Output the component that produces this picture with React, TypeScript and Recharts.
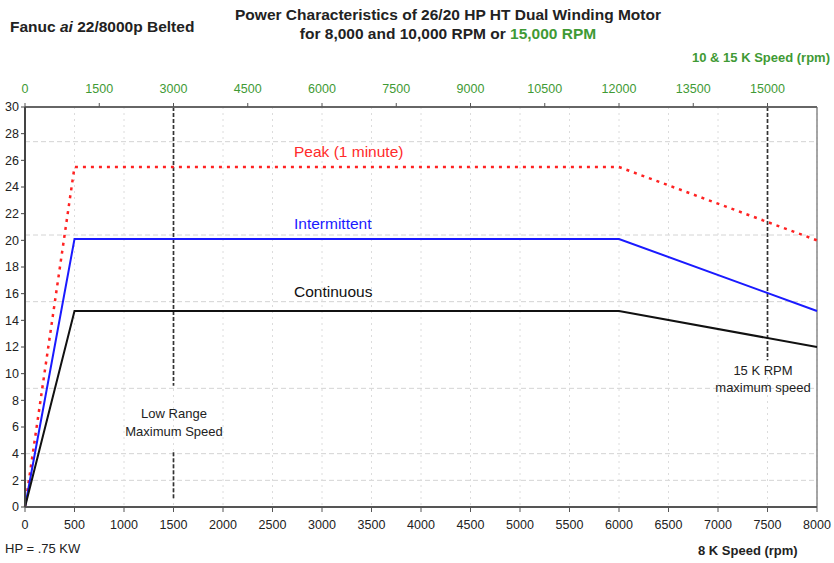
import {
  LineChart,
  Line,
  XAxis,
  YAxis,
  CartesianGrid,
  ReferenceLine,
} from "recharts";

// 8K speed axis (bottom), rpm
const speeds = [0, 500, 6000, 8000];
const peakHp = [0, 25.5, 25.5, 20.0];
const intermittentHp = [0, 20.1, 20.1, 14.7];
const continuousHp = [0, 14.7, 14.7, 12.0];

const bottomTicks = [0, 500, 1000, 1500, 2000, 2500, 3000, 3500, 4000, 4500, 5000, 5500, 6000, 6500, 7000, 7500, 8000];
const topTicks = [0, 1500, 3000, 4500, 6000, 7500, 9000, 10500, 12000, 13500, 15000];
const hpTicks = [0, 2, 4, 6, 8, 10, 12, 14, 16, 18, 20, 22, 24, 26, 28, 30];
const hGrid = [2, 4, 8.9, 15.4, 20.4, 27.4];

const lowRangeMax = 1500;
const highRangeMax = 7500;
// 10 & 15 K motor runs at twice the 8 K belt speed
const speedRatio = 2;

const GREEN = "#3f9a35";
const FONT = "'Liberation Sans', Arial, sans-serif";

const data = speeds.map((rpm, i) => ({
  rpm,
  rpmHigh: rpm * speedRatio,
  peak: peakHp[i],
  intermittent: intermittentHp[i],
  continuous: continuousHp[i],
}));

const txt = (
  left: number,
  top: number,
  content: React.ReactNode,
  style: React.CSSProperties = {}
) => (
  <div
    style={{
      position: "absolute",
      left,
      top,
      fontFamily: FONT,
      fontSize: 12,
      color: "#222",
      whiteSpace: "nowrap",
      lineHeight: 1,
      ...style,
    }}
  >
    {content}
  </div>
);

export default function App() {
  return (
    <div style={{ position: "absolute", left: 0, top: 0, width: 834, height: 563, background: "#fff" }}>
      <LineChart
        width={834}
        height={563}
        data={data}
        margin={{ top: 77, right: 17, bottom: 26, left: 0 }}
      >
        <CartesianGrid
          xAxisId="bottom"
          vertical={false}
          horizontalValues={hGrid}
          stroke="#d4d4d4"
          strokeDasharray="5 3"
        />
        <CartesianGrid
          xAxisId="bottom"
          horizontal={false}
          verticalValues={bottomTicks}
          stroke="#dcdcdc"
          strokeDasharray="2 4"
        />
        <XAxis
          xAxisId="bottom"
          dataKey="rpm"
          type="number"
          domain={[0, 8000]}
          ticks={bottomTicks}
          interval={0}
          height={30}
          tickSize={5}
          tickMargin={8}
          axisLine={{ stroke: "#555", strokeWidth: 2 }}
          tickLine={{ stroke: "#555" }}
          tick={{ fill: "#222", fontSize: 12.5, fontFamily: FONT }}
        />
        <XAxis
          xAxisId="top"
          dataKey="rpmHigh"
          orientation="top"
          type="number"
          domain={[0, 16000]}
          ticks={topTicks}
          interval={0}
          height={30}
          tickSize={4}
          tickMargin={10}
          axisLine={{ stroke: "#666", strokeWidth: 2 }}
          tickLine={{ stroke: "#555" }}
          tick={{ fill: GREEN, fontSize: 12.5, fontFamily: FONT }}
        />
        <YAxis
          type="number"
          domain={[0, 30]}
          ticks={hpTicks}
          interval={0}
          width={25}
          tickSize={4}
          tickMargin={2}
          axisLine={{ stroke: "#444", strokeWidth: 2 }}
          tickLine={{ stroke: "#444" }}
          tick={{ fill: "#222", fontSize: 12.5, fontFamily: FONT }}
        />
        <ReferenceLine xAxisId="bottom" x={8000} stroke="#888" strokeWidth={1.5} />
        <ReferenceLine
          xAxisId="bottom"
          segment={[{ x: lowRangeMax, y: 30 }, { x: lowRangeMax, y: 9.1 }]}
          stroke="#333"
          strokeWidth={1.7}
          strokeDasharray="4 2"
        />
        <ReferenceLine
          xAxisId="bottom"
          segment={[{ x: lowRangeMax, y: 4.1 }, { x: lowRangeMax, y: 0.5 }]}
          stroke="#333"
          strokeWidth={1.7}
          strokeDasharray="4 2"
        />
        <ReferenceLine
          xAxisId="bottom"
          segment={[{ x: highRangeMax, y: 30 }, { x: highRangeMax, y: 11 }]}
          stroke="#333"
          strokeWidth={1.7}
          strokeDasharray="4 2"
        />
        {/* invisible series that binds the 10 & 15 K speed axis */}
        <Line
          xAxisId="top"
          dataKey="continuous"
          stroke="none"
          dot={false}
          activeDot={false}
          legendType="none"
          isAnimationActive={false}
        />
        <Line
          xAxisId="bottom"
          dataKey="peak"
          stroke="#ff2222"
          strokeWidth={2.5}
          strokeDasharray="3 5"
          dot={false}
          isAnimationActive={false}
        />
        <Line
          xAxisId="bottom"
          dataKey="intermittent"
          stroke="#1a1aff"
          strokeWidth={2}
          dot={false}
          isAnimationActive={false}
        />
        <Line
          xAxisId="bottom"
          dataKey="continuous"
          stroke="#111"
          strokeWidth={2}
          dot={false}
          isAnimationActive={false}
        />
      </LineChart>

      {/* titles */}
      <div
        style={{
          position: "absolute",
          left: 198,
          width: 500,
          top: 5,
          textAlign: "center",
          fontFamily: FONT,
          fontSize: 15.5,
          fontWeight: "bold",
          color: "#222",
          lineHeight: "19px",
        }}
      >
        <div>Power Characteristics of 26/20 HP HT Dual Winding Motor</div>
        <div>
          for 8,000 and 10,000 RPM or <span style={{ color: GREEN }}>15,000 RPM</span>
        </div>
      </div>
      {txt(
        10,
        19,
        <>
          Fanuc <i>ai</i> 22/8000p Belted
        </>,
        { fontSize: 15.5, fontWeight: "bold" }
      )}
      <div
        style={{
          position: "absolute",
          right: 4,
          top: 51,
          fontFamily: FONT,
          fontSize: 13,
          fontWeight: "bold",
          color: GREEN,
          whiteSpace: "nowrap",
          lineHeight: 1,
        }}
      >
        10 &amp; 15 K Speed (rpm)
      </div>
      {txt(698, 544, "8 K Speed (rpm)", { fontSize: 13, fontWeight: "bold" })}
      {txt(5, 542, "HP = .75 KW", { fontSize: 13 })}

      {/* series labels */}
      {txt(294, 144, "Peak (1 minute)", { fontSize: 15.5, color: "#ff2a2a" })}
      {txt(294, 216, "Intermittent", { fontSize: 15.5, color: "#1a1aff" })}
      {txt(294, 284, "Continuous", { fontSize: 15.5, color: "#111" })}

      {/* range annotations */}
      <div
        style={{
          position: "absolute",
          left: 112,
          width: 124,
          top: 405,
          textAlign: "center",
          fontFamily: FONT,
          fontSize: 13,
          color: "#222",
          lineHeight: "18px",
        }}
      >
        <div>Low Range</div>
        <div>Maximum Speed</div>
      </div>
      <div
        style={{
          position: "absolute",
          left: 703,
          width: 120,
          top: 362,
          textAlign: "center",
          fontFamily: FONT,
          fontSize: 13,
          color: "#222",
          lineHeight: "17px",
        }}
      >
        <div>15 K RPM</div>
        <div>maximum speed</div>
      </div>
    </div>
  );
}
